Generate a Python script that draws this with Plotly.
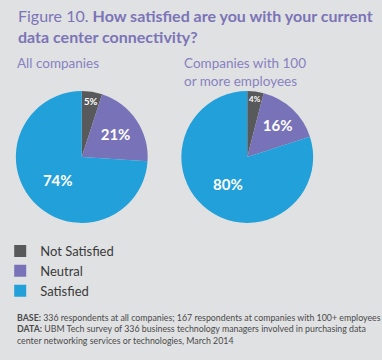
import plotly.graph_objects as go

labels = ["Not Satisfied", "Neutral", "Satisfied"]
all_companies = [5, 21, 74]
large_companies = [4, 16, 80]
colors = ["#58595b", "#7873b8", "#22a0d9"]

W, H = 382, 360
def px_x(v): return v / W
def px_y(v): return 1 - v / H

fig = go.Figure()
common = dict(
    labels=labels, sort=False, direction="clockwise", rotation=0,
    marker=dict(colors=colors, line=dict(width=0)),
    texttemplate="%{value}%", textposition="inside", insidetextorientation="horizontal",
    textfont=dict(family="Lato", size=15, color="white", weight="bold"),
    hoverinfo="label+value",
)
fig.add_trace(go.Pie(values=all_companies, name="All companies",
                     domain=dict(x=[px_x(7), px_x(142)], y=[px_y(224.5), px_y(89.5)]), **common))
fig.add_trace(go.Pie(values=large_companies, name="Companies with 100 or more employees",
                     domain=dict(x=[px_x(176.5), px_x(311.5)], y=[px_y(224.5), px_y(89.5)]), **common))

purple = "#7b74b6"
ann = [
    dict(text="Figure 10. <b>How satisfied are you with your current</b><br><b>data center connectivity?</b>",
         x=px_x(7), y=px_y(4), xanchor="left", yanchor="top", align="left",
         font=dict(family="Lato", size=16, color=purple)),
    dict(text="All companies", x=px_x(6), y=px_y(53), xanchor="left", yanchor="top", align="left",
         font=dict(family="Lato", size=13.5, color="#8782c0")),
    dict(text="Companies with 100<br>or more employees", x=px_x(177), y=px_y(53), xanchor="left", yanchor="top",
         align="left", font=dict(family="Lato", size=13.5, color="#8782c0")),
    dict(text="<b>BASE:</b> 336 respondents at all companies; 167 respondents at companies with 100+ employees<br>"
              "<b>DATA:</b> UBM Tech survey of 336 business technology managers involved in purchasing data<br>"
              "center networking services or technologies, March 2014",
         x=px_x(6), y=px_y(310), xanchor="left", yanchor="top", align="left",
         font=dict(family="Lato", size=8.8, color="#4a4a4a")),
]
for a in ann:
    a.update(xref="paper", yref="paper", showarrow=False)

fig.update_layout(
    width=W, height=H, margin=dict(l=0, r=0, t=0, b=0),
    paper_bgcolor="#e0e1e3", plot_bgcolor="#e0e1e3",
    annotations=ann,
    legend=dict(x=px_x(-9), y=px_y(236), xanchor="left", yanchor="top",
                font=dict(family="Lato", size=13, color="#3a3a3a"),
                bgcolor="rgba(0,0,0,0)", tracegroupgap=0),
)
fig.write_html("out.html", config={"displayModeBar": False},
               post_script="document.body.style.margin='0';")
